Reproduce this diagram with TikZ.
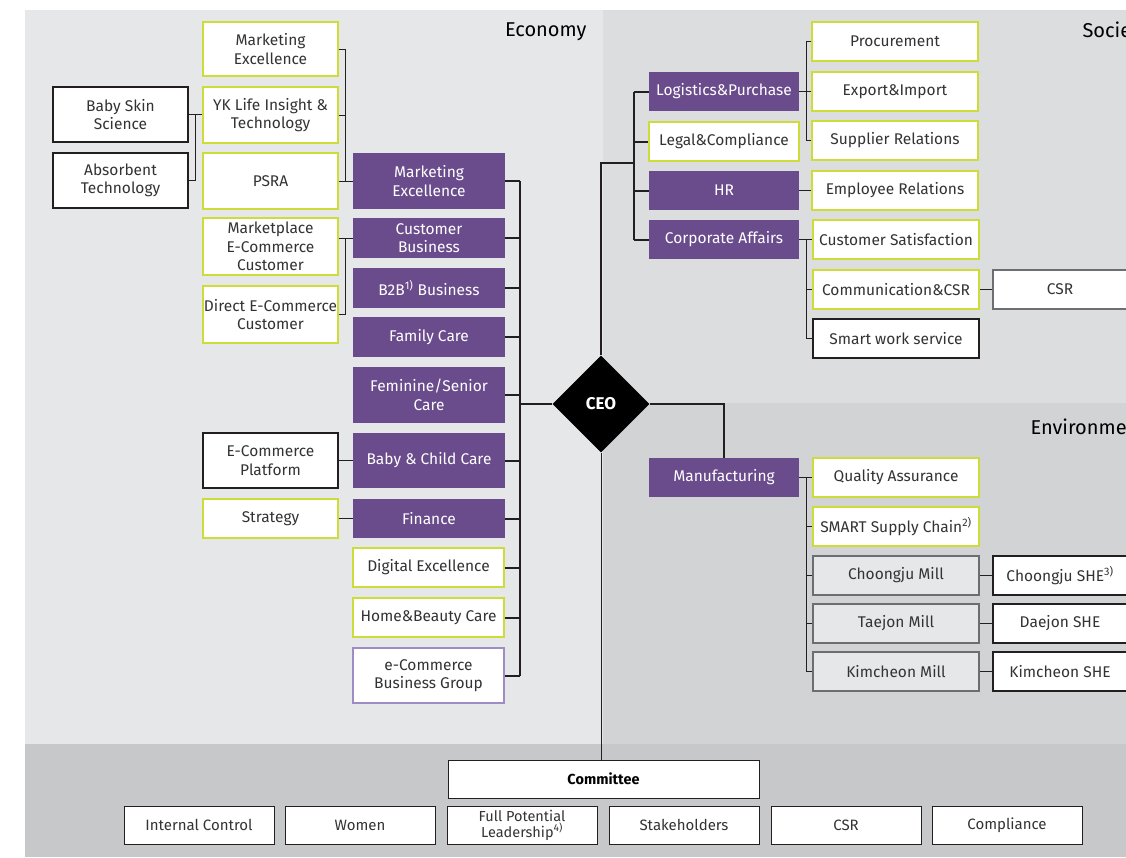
\documentclass[tikz,border=0pt]{standalone}
\usepackage{fontspec}
\setmainfont{Fira Sans}
\usetikzlibrary{shapes.geometric}
\definecolor{purp}{HTML}{6A4C8C}
\definecolor{lime}{HTML}{CDDC39}
\definecolor{txt}{HTML}{333333}
\definecolor{econbg}{HTML}{E6E7E8}
\definecolor{socbg}{HTML}{DCDDDF}
\definecolor{envbg}{HTML}{D1D3D4}
\definecolor{combg}{HTML}{C7C8CA}
\definecolor{millbd}{HTML}{6D6E71}
\definecolor{lpurp}{HTML}{A08CC4}
\definecolor{linec}{HTML}{231F20}
\newcommand{\orgbox}[7]{\node[#1, minimum width={(#5-#3)*1pt}, minimum height={(#6-#4)*1pt}] (#2) at ({(#3+#5)/2},{(#4+#6)/2}) {#7};}
\begin{document}
\begin{tikzpicture}[x=1pt,y=-1pt,
  basebox/.style={align=center, inner sep=1pt, font=\fontsize{15.5}{18.5}\selectfont, text=txt},
  pbox/.style={basebox, fill=purp, text=white},
  gbox/.style={basebox, fill=white, draw=lime, line width=1.2pt},
  kbox/.style={basebox, fill=white, draw=linec, line width=1.2pt},
  wbox/.style={basebox, fill=white, draw=millbd, line width=1.2pt},
  mbox/.style={basebox, fill=econbg, draw=millbd, line width=1.2pt},
  lbox/.style={basebox, fill=white, draw=lpurp, line width=1.2pt},
  cbox/.style={basebox, fill=white, draw=linec, line width=1pt, font=\fontsize{15}{16}\selectfont},
  bus/.style={draw=linec, line width=2pt},
  midline/.style={draw=linec, line width=1.5pt},
  thinline/.style={draw=linec, line width=1pt},
  title/.style={font=\fontsize{20}{23}\selectfont\mdseries, text=black}
]
\useasboundingbox (0,0) rectangle (1126,857);
\clip (0,0) rectangle (1126,857);
% backgrounds
\fill[white] (0,0) rectangle (1126,857);
\fill[econbg] (25,10) rectangle (603,744);
\fill[socbg] (603,10) rectangle (1126,403);
\fill[envbg] (603,403) rectangle (1126,744);
\fill[combg] (25,744) rectangle (1126,857);
% titles
\node[title, anchor=east] (tEco) at (590,32) {Economy};
\node[title, anchor=west] (tSoc) at (1079,32) {Society};
\node[title, anchor=west] (tEnv) at (1027,427) {Environment};
% ===== Economy =====
\orgbox{gbox}{meA}{203}{22}{338}{76}{Marketing\\Excellence}
\orgbox{gbox}{yk}{203}{87}{338}{143}{YK Life Insight \&\\Technology}
\orgbox{gbox}{psra}{203}{153}{338}{209}{PSRA}
\orgbox{kbox}{bss}{53}{87}{188}{142}{Baby Skin\\Science}
\orgbox{kbox}{abs}{53}{153}{188}{208}{Absorbent\\Technology}
\orgbox{pbox}{meP}{353}{153}{505}{209}{Marketing\\Excellence}
\orgbox{pbox}{cb}{353}{218}{505}{258}{Customer\\Business}
\orgbox{gbox}{mpe}{203}{218}{338}{275}{Marketplace\\E-Commerce\\Customer}
\orgbox{gbox}{dec}{203}{286}{338}{343}{Direct E-Commerce\\Customer}
\orgbox{pbox}{b2b}{353}{268}{505}{308}{B2B\textsuperscript{1)} Business}
\orgbox{pbox}{fc}{353}{317}{505}{357}{Family Care}
\orgbox{pbox}{fs}{353}{367}{505}{423}{Feminine/Senior\\Care}
\orgbox{kbox}{ecp}{203}{433}{338}{488}{E-Commerce\\Platform}
\orgbox{pbox}{bcc}{353}{433}{505}{488}{Baby \& Child Care}
\orgbox{gbox}{strat}{203}{499}{338}{538}{Strategy}
\orgbox{pbox}{fin}{353}{499}{505}{538}{Finance}
\orgbox{gbox}{dig}{353}{548}{504}{587}{Digital Excellence}
\orgbox{gbox}{hb}{353}{598}{504}{637}{Home\&Beauty Care}
\orgbox{lbox}{ecb}{353}{648}{504}{703}{e-Commerce\\Business Group}
% CEO
\node[diamond, aspect=1, fill=black, minimum width=97pt, minimum height=97pt, inner sep=0pt,
  text=white, font=\fontsize{17}{20}\selectfont\bfseries] (ceo) at (601,404) {CEO};
% ===== Society =====
\orgbox{pbox}{lp}{649}{72}{799}{111}{Logistics\&Purchase}
\orgbox{gbox}{lc}{649}{122}{799}{161}{Legal\&Compliance}
\orgbox{pbox}{hr}{649}{171}{799}{210}{HR}
\orgbox{pbox}{ca}{649}{220}{799}{259}{Corporate Affairs}
\orgbox{gbox}{pr}{812}{22}{978}{61}{Procurement}
\orgbox{gbox}{ei}{812}{72}{978}{111}{Export\&Import}
\orgbox{gbox}{sr}{812}{121}{978}{160}{Supplier Relations}
\orgbox{gbox}{er}{812}{171}{978}{210}{Employee Relations}
\orgbox{gbox}{cs}{813}{220}{979}{259}{Customer Satisfaction}
\orgbox{gbox}{cc}{813}{270}{979}{309}{Communication\&CSR}
\orgbox{kbox}{sw}{813}{319}{979}{358}{Smart work service}
\orgbox{wbox}{csrS}{993}{270}{1127}{309}{CSR}
% ===== Environment =====
\orgbox{pbox}{mf}{649}{458}{799}{497}{Manufacturing}
\orgbox{gbox}{qa}{813}{458}{979}{497}{Quality Assurance}
\orgbox{gbox}{sc}{813}{507}{979}{546}{SMART Supply Chain\textsuperscript{2)}}
\orgbox{mbox}{cm}{813}{556}{979}{595}{Choongju Mill}
\orgbox{mbox}{tm}{813}{604}{979}{643}{Taejon Mill}
\orgbox{mbox}{km}{813}{652}{979}{691}{Kimcheon Mill}
\orgbox{kbox}{cshe}{993}{556}{1127}{595}{Choongju SHE\textsuperscript{3)}}
\orgbox{kbox}{dshe}{993}{604}{1127}{643}{Daejon SHE}
\orgbox{kbox}{kshe}{993}{652}{1127}{691}{Kimcheon SHE}
% ===== Committee =====
\orgbox{cbox, text=black, font=\fontsize{14.5}{16}\selectfont\bfseries}{com}{448}{760}{759}{798}{Committee}
\orgbox{cbox}{ic}{124}{806}{274}{844}{Internal Control}
\orgbox{cbox}{wm}{285}{806}{435}{844}{Women}
\orgbox{cbox}{fp}{447}{806}{597}{844}{\fontsize{14.5}{16}\selectfont Full Potential\\\fontsize{14.5}{16}\selectfont Leadership\textsuperscript{4)}}
\orgbox{cbox}{sh}{609}{806}{759}{844}{Stakeholders}
\orgbox{cbox}{csrC}{771}{806}{921}{844}{CSR}
\orgbox{cbox}{cp}{932}{806}{1082}{844}{Compliance}
% ===== connectors: Economy =====
\coordinate (j1) at (195.5,114.5);
\coordinate (j2) at (345.5,181);
\coordinate (j3) at (345.5,238);
\coordinate (ebus) at (519.5,0);
\draw[thinline] (bss.east) -- (bss.east -| yk.west);
\draw[thinline] (abs.east) -| (j1);
\draw[thinline] (meA.east) -| (j2);
\draw[thinline] (yk.east) -- (yk.east -| j2);
\draw[thinline] (psra.east) -- (meP.west);
\draw[thinline] (cb.west) -- (cb.west -| mpe.east);
\draw[thinline] (dec.east) -| (j3);
\draw[thinline] (strat.east) -- (fin.west);
\draw[thinline] (ecp.east) -- (bcc.west);
\draw[bus] (meP.east -| ebus) -- (ecb.east -| ebus);
\foreach \n in {meP,cb,b2b,fc,fs,bcc,fin,dig,hb,ecb}{
  \draw[bus] (\n.east) -- (\n.east -| ebus);
}
\draw[bus] (ceo.west) -- (ceo.west -| ebus);
% ===== connectors: Society =====
\coordinate (sj) at (634,163);
\coordinate (k1) at (806,0);
\draw[bus] (ceo.north) |- (sj);
\draw[bus] (lp.west -| sj) -- (ca.west -| sj);
\foreach \n in {lp,lc,hr,ca}{
  \draw[bus] (\n.west) -- (\n.west -| sj);
}
\draw[thinline] (lp.east) -- (ei.west);
\draw[thinline] (pr.west) -| (sr.west -| k1) -- (sr.west);
\draw[thinline] (hr.east) -- (er.west);
\draw[thinline] (ca.east) -- (cs.west);
\draw[thinline] (cs.west -| k1) |- (sw.west);
\draw[thinline] (cc.west) -- (cc.west -| k1);
\draw[thinline] (cc.east) -- (csrS.west);
% ===== connectors: Environment =====
\draw[midline] (ceo.east) -| (mf.north);
\draw[thinline] (mf.east) -- (qa.west);
\draw[thinline] (qa.west -| k1) |- (km.west);
\draw[thinline] (sc.west) -- (sc.west -| k1);
\draw[thinline] (cm.west) -- (cm.west -| k1);
\draw[thinline] (tm.west) -- (tm.west -| k1);
\draw[thinline] (cm.east) -- (cshe.west);
\draw[thinline] (tm.east) -- (dshe.west);
\draw[thinline] (km.east) -- (kshe.west);
% ===== connector: Committee =====
\draw[thinline] (ceo.south) -- (ceo.south |- com.north);
\end{tikzpicture}
\end{document}
